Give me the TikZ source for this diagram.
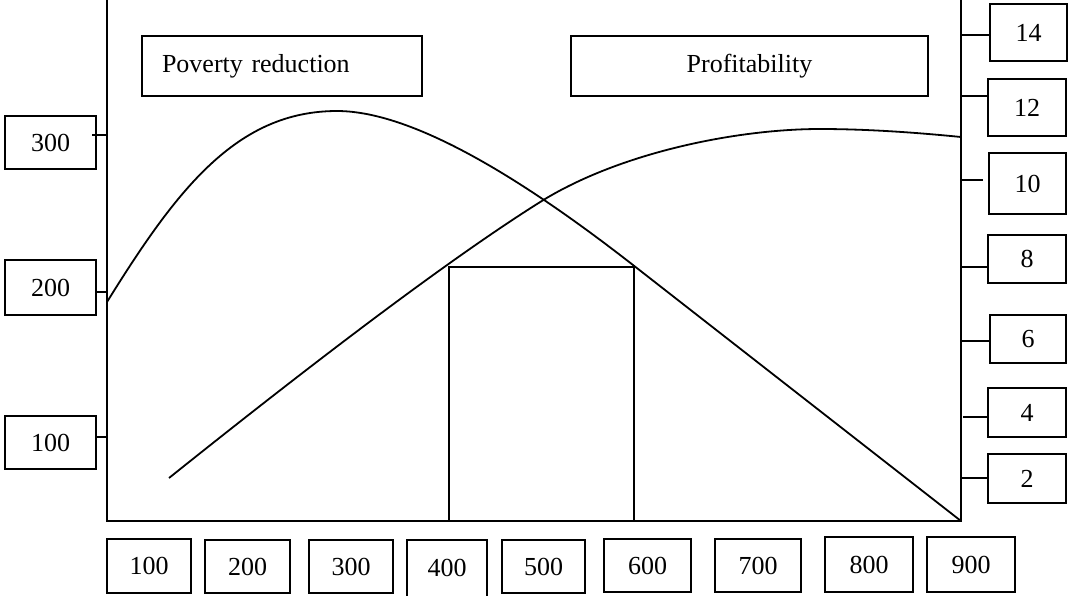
\documentclass[tikz,border=0pt]{standalone}
\usepackage{fontspec}
\setmainfont{Liberation Serif}
\begin{document}
\begin{tikzpicture}[x=1pt,y=-1pt,
  line width=1.8pt,
  every node/.style={font=\fontsize{26}{30}\selectfont},
  valbox/.style={draw, inner sep=0pt, minimum width=#1},
  valbox/.default=84,
  curve/.style={line width=1.8pt, line join=round}]
\clip (0,0) rectangle (1068,595);

% axes
\coordinate (o) at (107,521);
\coordinate (ltop) at (107,0);
\coordinate (rbot) at (961,521);
\coordinate (rtop) at (961,0);
\draw (ltop) -- (o) -- (rbot) -- (rtop);

% legend boxes
\node[draw, minimum width=280, minimum height=60, text width=240, align=left, inner xsep=20pt] (pov) at (282,66) {Poverty reduction};
\node[draw, minimum width=357, minimum height=60, align=center] (prof) at (749.5,66) {Profitability};

% left scale
\node[valbox=91, minimum height=53] (l300) at (50.5,142.5) {300};
\node[valbox=91, minimum height=55] (l200) at (50.5,287.5) {200};
\node[valbox=91, minimum height=53] (l100) at (50.5,442.5) {100};
\coordinate (a300) at (107,135);
\coordinate (a200) at (107,292);
\coordinate (a100) at (107,437);
\draw (a300) -- (92,135);
\draw (a200) -- (l200.east |- a200);
\draw (a100) -- (l100.east |- a100);

% right scale
\node[valbox=77, minimum height=57] (r14) at (1028.5,32.5) {14};
\node[valbox=78, minimum height=57] (r12) at (1027,107.5) {12};
\node[valbox=77, minimum height=61] (r10) at (1027.5,183.5) {10};
\node[valbox=78, minimum height=48] (r8) at (1027,259) {8};
\node[valbox=76, minimum height=48] (r6) at (1028,339) {6};
\node[valbox=78, minimum height=49] (r4) at (1027,412.5) {4};
\node[valbox=78, minimum height=49] (r2) at (1027,478.5) {2};
\coordinate (b14) at (961,35);
\coordinate (b12) at (961,96);
\coordinate (b10) at (961,180);
\coordinate (b8) at (961,267);
\coordinate (b6) at (961,341);
\coordinate (b4) at (963,417);
\coordinate (b2) at (961,478);
\draw (b14) -- (r14.west |- b14);
\draw (b12) -- (r12.west |- b12);
\draw (b10) -- (983,180);
\draw (b8) -- (r8.west |- b8);
\draw (b6) -- (r6.west |- b6);
\draw (b4) -- (r4.west |- b4);
\draw (b2) -- (r2.west |- b2);

% bottom scale
\node[valbox=84, minimum height=54] (x100) at (149,566) {100};
\node[valbox=85, minimum height=53] (x200) at (247.5,566.5) {200};
\node[valbox=84, minimum height=53] (x300) at (351,566.5) {300};
\node[valbox=80, minimum height=64] (x400) at (447,572) {\raisebox{9pt}{400}};
\node[valbox=83, minimum height=53] (x500) at (543.5,566.5) {500};
\node[valbox=87, minimum height=53] (x600) at (647.5,565.5) {600};
\node[valbox=86, minimum height=53] (x700) at (758,565.5) {700};
\node[valbox=88, minimum height=55] (x800) at (869,564.5) {800};
\node[valbox=88, minimum height=55] (x900) at (971,564.5) {900};

% overlap window
\draw (449,521) rectangle (634,267);

% poverty reduction curve
\draw[curve] (107,302) .. controls (177,189) and (237,111) .. (337,111)
  .. controls (417,111) and (533,187) .. (633,265) -- (rbot);

% profitability curve
\draw[curve] (169,478) .. controls (294,378) and (445,261) .. (545,199)
  .. controls (625,151) and (740,129) .. (820,129)
  .. controls (870,129) and (921,133) .. (961,137);
\end{tikzpicture}
\end{document}
